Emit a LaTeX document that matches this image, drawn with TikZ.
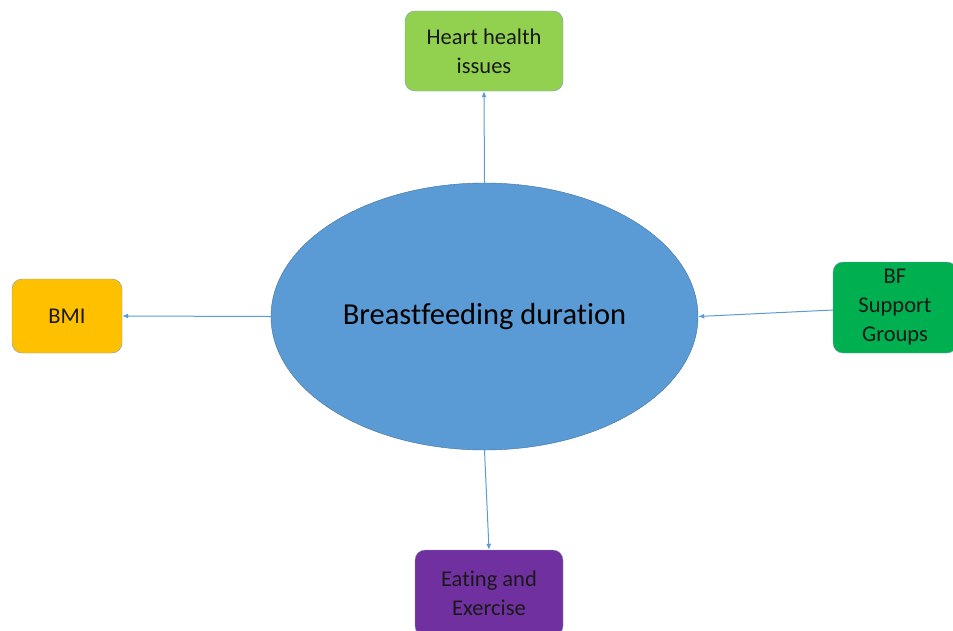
\documentclass[tikz,border=0pt]{standalone}
\usepackage{fontspec}
\setmainfont{Carlito}[Ligatures=NoCommon]
\usepackage{xcolor}
\definecolor{bfblue}{HTML}{5B9BD5}
\definecolor{bfline}{HTML}{41719C}
\definecolor{heartgreen}{HTML}{92D050}
\definecolor{bmiorange}{HTML}{FFC000}
\definecolor{supportgreen}{HTML}{00B050}
\definecolor{eatpurple}{HTML}{7030A0}
\usetikzlibrary{shapes.geometric,arrows.meta}

\begin{document}
\begin{tikzpicture}[x=1pt, y=-1pt,
      factor/.style={draw=bfline!70, rounded corners=10pt, align=center, font=\fontsize{22.5}{29}\selectfont, text=black!90, inner sep=0pt},
      core/.style={draw=bfline, ellipse, fill=bfblue, minimum width=427pt, minimum height=267pt, inner sep=0pt, font=\fontsize{30.5}{36}\selectfont, text=black},
      link/.style={draw=bfblue, line width=1pt, -{Latex[length=6pt,width=5pt]}}
    ]
    \useasboundingbox (0,0) rectangle (953,630);
    \node[core] (bf) at (484.5,316.5) {Breastfeeding duration};

    \node[factor, fill=heartgreen, minimum width=158pt, minimum height=80pt] (heart) at (484,51) {Heart health\\issues};
    \node[factor, fill=bmiorange, minimum width=110pt, minimum height=74pt] (bmi) at (67,316) {BMI};
    \node[factor, fill=supportgreen, minimum width=124pt, minimum height=91pt] (supp) at (895,307.5) {BF\\Support\\Groups};
    \node[factor, fill=eatpurple, minimum width=148pt, minimum height=86pt] (eat) at (489,593) {Eating and\\Exercise};

    \draw[link] (bf.north) -- (heart.south);
    \draw[link] (bf.west) -- (bmi.east);
    \draw[link] (supp.west |- 0,310) -- (bf.east);
    \draw[link] (bf.south) -- (eat.north);
  \end{tikzpicture}
\end{document}
